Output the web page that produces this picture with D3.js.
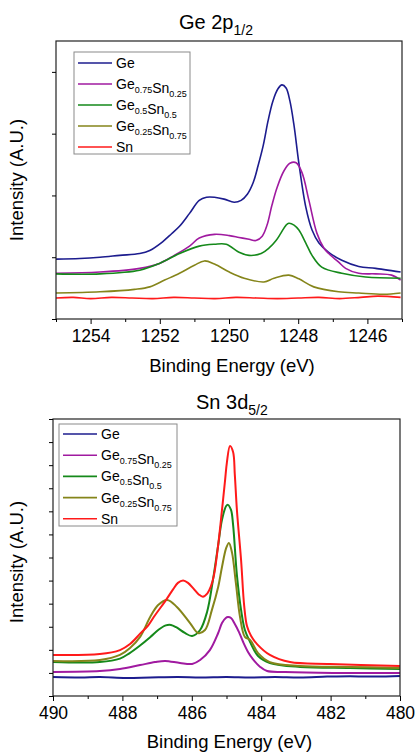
<!DOCTYPE html>
<html>
<head>
<meta charset="utf-8">
<script src="https://cdn.jsdelivr.net/npm/d3@7"></script>
<style>
  body { margin: 0; background: #fff; }
  text { font-family: "Liberation Sans", Arial, sans-serif; fill: #000; }
</style>
</head>
<body>
<div id="chart"></div>
<script>
// series names and colours
var names = ["Ge", "Ge0.75Sn0.25", "Ge0.5Sn0.5", "Ge0.25Sn0.75", "Sn"];
var colors = ["#1c1c8e", "#a01aa0", "#15891a", "#85851a", "#ff1a1a"];
// legend labels as [base, sub] pieces
var legendParts = [
  [["Ge", null]],
  [["Ge", "0.75"], ["Sn", "0.25"]],
  [["Ge", "0.5"], ["Sn", "0.5"]],
  [["Ge", "0.25"], ["Sn", "0.75"]],
  [["Sn", null]]
];

// ---- Ge 2p1/2 (binding energy eV, intensity a.u.)
var geTicks = [1254, 1252, 1250, 1248, 1246];
var ge_Ge = [[1255.00,0.97],[1254.31,0.98],[1253.73,1.00],[1253.16,1.03],[1252.58,1.06],[1252.29,1.11],[1251.92,1.25],[1251.66,1.38],[1251.43,1.50],[1251.14,1.71],[1250.86,1.92],[1250.65,1.97],[1250.42,1.97],[1250.14,1.94],[1249.85,1.89],[1249.65,1.92],[1249.47,2.02],[1249.30,2.21],[1249.16,2.48],[1249.01,2.81],[1248.87,3.21],[1248.73,3.53],[1248.58,3.73],[1248.47,3.79],[1248.35,3.74],[1248.24,3.53],[1248.12,3.13],[1247.98,2.52],[1247.78,1.81],[1247.60,1.44],[1247.40,1.23],[1247.12,1.08],[1246.74,0.95],[1246.25,0.85],[1245.76,0.82],[1245.04,0.76]];
var ge_GeSn25 = [[1255.00,0.74],[1253.73,0.76],[1252.58,0.82],[1252.01,0.90],[1251.58,1.03],[1251.14,1.18],[1250.86,1.31],[1250.42,1.37],[1249.99,1.35],[1249.71,1.32],[1249.42,1.29],[1249.22,1.27],[1249.04,1.34],[1248.90,1.52],[1248.76,1.84],[1248.61,2.13],[1248.41,2.40],[1248.24,2.52],[1248.06,2.53],[1247.89,2.37],[1247.69,1.92],[1247.46,1.39],[1247.26,1.15],[1247.12,1.06],[1246.83,0.92],[1246.63,0.82],[1246.25,0.74],[1245.76,0.73],[1245.30,0.71],[1245.04,0.63]];
var ge_GeSn50 = [[1255.00,0.73],[1253.73,0.73],[1252.58,0.79],[1252.01,0.90],[1251.43,1.06],[1250.86,1.18],[1250.42,1.21],[1250.08,1.21],[1249.71,1.08],[1249.42,1.03],[1249.07,1.06],[1248.84,1.15],[1248.64,1.27],[1248.50,1.39],[1248.35,1.52],[1248.27,1.55],[1248.12,1.52],[1247.98,1.44],[1247.78,1.23],[1247.60,1.03],[1247.32,0.84],[1246.74,0.74],[1246.05,0.68],[1245.04,0.66]];
var ge_GeSn75 = [[1255.00,0.42],[1253.73,0.44],[1252.73,0.48],[1252.29,0.52],[1251.86,0.63],[1251.43,0.74],[1251.00,0.87],[1250.71,0.94],[1250.42,0.89],[1249.99,0.76],[1249.56,0.66],[1248.99,0.60],[1248.70,0.66],[1248.27,0.71],[1247.98,0.65],[1247.55,0.52],[1246.83,0.44],[1246.25,0.42],[1245.53,0.40],[1245.04,0.42]];
var ge_Sn = [[1255.00,0.34],[1254.50,0.35],[1254.00,0.33],[1253.40,0.35],[1252.80,0.34],[1252.20,0.33],[1251.60,0.35],[1251.00,0.34],[1250.40,0.33],[1249.80,0.35],[1249.20,0.34],[1248.60,0.33],[1248.00,0.34],[1247.40,0.35],[1246.80,0.33],[1246.20,0.35],[1245.70,0.37],[1245.04,0.35]];

// ---- Sn 3d5/2
var snTicks = [490, 488, 486, 484, 482, 480];
var sn_Ge = [[490.00,0.82],[489.20,0.80],[488.65,0.82],[487.90,0.78],[487.20,0.80],[486.40,0.82],[485.76,0.80],[485.00,0.82],[484.32,0.80],[483.60,0.82],[482.88,0.80],[482.10,0.84],[481.44,0.86],[480.70,0.84],[480.00,0.87]];
var sn_GeSn25 = [[490.00,1.04],[488.65,1.08],[488.07,1.17],[487.49,1.34],[487.06,1.47],[486.77,1.52],[486.34,1.43],[485.99,1.39],[485.76,1.56],[485.48,1.99],[485.24,2.73],[485.13,3.16],[485.02,3.38],[484.96,3.42],[484.87,3.38],[484.76,3.12],[484.64,2.77],[484.52,2.34],[484.38,1.91],[484.24,1.60],[484.03,1.26],[483.83,1.08],[483.31,1.04],[481.93,1.00],[480.00,1.00]];
var sn_GeSn50 = [[490.00,1.47],[488.65,1.47],[488.07,1.62],[487.80,1.85],[487.50,2.18],[487.20,2.55],[486.95,2.88],[486.75,3.06],[486.60,3.08],[486.45,2.98],[486.20,2.73],[485.99,2.60],[485.76,2.86],[485.56,3.64],[485.39,5.03],[485.24,6.54],[485.13,7.63],[485.01,8.23],[484.96,8.28],[484.87,8.06],[484.81,7.41],[484.70,5.24],[484.58,3.73],[484.47,2.86],[484.32,2.34],[484.09,1.73],[483.75,1.43],[482.88,1.26],[481.44,1.21],[480.00,1.17]];
var sn_GeSn75 = [[490.00,1.52],[488.65,1.56],[488.07,1.78],[487.78,2.08],[487.49,2.56],[487.20,3.42],[486.97,3.94],[486.71,4.16],[486.43,3.86],[486.05,3.16],[485.82,2.73],[485.62,2.86],[485.42,3.73],[485.24,4.72],[485.13,5.59],[485.01,6.41],[484.93,6.63],[484.84,6.20],[484.73,4.90],[484.61,3.42],[484.47,2.56],[484.32,2.43],[484.09,1.86],[483.75,1.47],[482.88,1.30],[481.44,1.26],[480.00,1.21]];
var sn_Sn = [[490.00,1.78],[488.65,1.82],[488.07,1.99],[487.78,2.25],[487.49,2.70],[487.26,3.05],[487.06,3.50],[486.77,4.10],[486.54,4.62],[486.40,4.90],[486.25,5.00],[486.11,4.90],[485.95,4.65],[485.80,4.40],[485.68,4.30],[485.55,4.45],[485.45,4.75],[485.36,5.24],[485.24,6.54],[485.13,8.06],[485.04,9.36],[484.99,10.10],[484.90,10.83],[484.81,10.57],[484.76,9.58],[484.70,8.06],[484.58,5.89],[484.49,3.90],[484.41,3.03],[484.29,2.60],[484.12,2.25],[483.75,1.78],[483.17,1.47],[482.02,1.39],[480.00,1.30]];

var svg = d3.select("#chart").append("svg")
    .attr("width", 416)
    .attr("height", 752);

function panel(opt) {
    var x = d3.scaleLinear().domain(opt.xDomain).range([opt.left, opt.right]);
    var y = d3.scaleLinear().domain(opt.yDomain).range([opt.bottom, opt.top]);
    var g = svg.append("g");

    // title with subscript
    var t = g.append("text")
        .attr("x", opt.titleX).attr("y", opt.titleY)
        .style("font-size", "20px");
    t.append("tspan").text(opt.title[0]);
    t.append("tspan").attr("dy", 6).style("font-size", "14px").text(opt.title[1]);

    // lines
    var line = d3.line()
        .x(function(d) { return x(d[0]); })
        .y(function(d) { return y(d[1]); })
        .curve(d3.curveCatmullRom.alpha(0.5));
    opt.series.forEach(function(s, i) {
        g.append("path")
            .datum(s)
            .attr("fill", "none")
            .attr("stroke", colors[i])
            .attr("stroke-width", opt.lw)
            .attr("d", line);
    });

    // frame
    g.append("rect")
        .attr("x", opt.left).attr("y", opt.top)
        .attr("width", opt.right - opt.left).attr("height", opt.bottom - opt.top)
        .attr("fill", "none").attr("stroke", "#222").attr("stroke-width", 1.2);

    // x axis
    var xa = g.append("g")
        .attr("transform", "translate(0," + opt.bottom + ")")
        .call(d3.axisBottom(x).tickValues(opt.xTicks).tickSize(5).tickPadding(6).tickFormat(d3.format("d")));
    xa.select(".domain").remove();
    xa.selectAll("text").style("font-size", "17.5px").style("font-family", "Liberation Sans, Arial, sans-serif");
    g.append("g")
        .attr("transform", "translate(0," + opt.bottom + ")")
        .call(d3.axisBottom(x).tickValues(opt.xMinor).tickSize(3).tickFormat(""))
        .select(".domain").remove();

    // y axis, ticks only
    var ya = g.append("g")
        .attr("transform", "translate(" + opt.left + ",0)")
        .call(d3.axisLeft(y).tickValues(opt.yTicks).tickSize(4).tickFormat(""));
    ya.select(".domain").remove();

    // axis titles
    g.append("text")
        .attr("x", (opt.left + opt.right) / 2 + 3).attr("y", opt.xTitleY)
        .attr("text-anchor", "middle")
        .style("font-size", "18.5px")
        .text("Binding Energy (eV)");
    g.append("text")
        .attr("transform", "translate(23," + opt.yTitleC + ") rotate(-90)")
        .attr("text-anchor", "middle")
        .style("font-size", "18.5px")
        .text("Intensity (A.U.)");

    // legend
    var lg = g.append("g");
    lg.append("rect")
        .attr("x", opt.leg.x).attr("y", opt.leg.y)
        .attr("width", opt.leg.w).attr("height", opt.leg.h)
        .attr("fill", "#fff").attr("stroke", "#8a8a8a").attr("stroke-width", 1);
    names.forEach(function(n, i) {
        var ly = opt.leg.y + opt.leg.first + i * opt.leg.step;
        lg.append("line")
            .attr("x1", opt.leg.x + 4).attr("x2", opt.leg.x + 38)
            .attr("y1", ly).attr("y2", ly)
            .attr("stroke", colors[i]).attr("stroke-width", 1.6);
        var tx = lg.append("text")
            .attr("x", opt.leg.x + 42).attr("y", ly + 5)
            .style("font-size", "14px");
        legendParts[i].forEach(function(p) {
            tx.append("tspan").attr("dy", 0).text(p[0]);
            if (p[1]) {
                tx.append("tspan").attr("dy", 4).style("font-size", "9px").text(p[1]);
                tx.append("tspan").attr("dy", -4).text("");
            }
        });
    });
}

panel({
    left: 56, right: 402, top: 41, bottom: 319,
    xDomain: [1255, 1245], yDomain: [0, 4.5],
    xTicks: geTicks, xMinor: [1255, 1253, 1251, 1249, 1247, 1245],
    yTicks: [0, 1, 2, 3, 4],
    series: [ge_Ge, ge_GeSn25, ge_GeSn50, ge_GeSn75, ge_Sn],
    lw: 1.6,
    title: ["Ge 2p", "1/2"], titleX: 179, titleY: 29,
    xTitleY: 372, yTitleC: 180,
    leg: { x: 74, y: 52, w: 116, h: 102, first: 11, step: 21 }
});

panel({
    left: 53, right: 400, top: 419, bottom: 696,
    xDomain: [490, 480], yDomain: [0, 12],
    xTicks: snTicks, xMinor: [489, 487, 485, 483, 481],
    yTicks: d3.range(0, 13),
    series: [sn_Ge, sn_GeSn25, sn_GeSn50, sn_GeSn75, sn_Sn],
    lw: 2,
    title: ["Sn 3d", "5/2"], titleX: 196, titleY: 409,
    xTitleY: 748, yTitleC: 562,
    leg: { x: 59, y: 424, w: 118, h: 102, first: 10, step: 21.2 }
});
</script>
</body>
</html>
